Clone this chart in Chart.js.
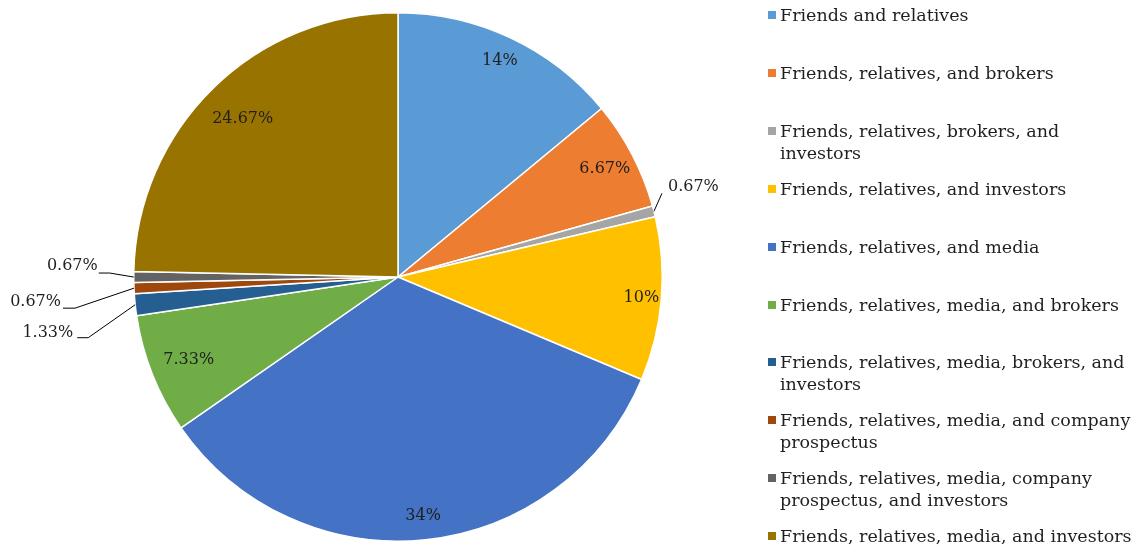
<!DOCTYPE html>
<html>
<head>
<meta charset="utf-8">
<script src="https://cdn.jsdelivr.net/npm/chart.js@4/dist/chart.umd.min.js"></script>
<style>
  html, body { margin: 0; padding: 0; background: #fff; }
  #wrap { position: relative; width: 1138px; height: 550px; }
  #c { position: absolute; left: 0; top: 0; }
  #legend { position: absolute; left: 0; top: 0; width: 1138px; height: 550px; pointer-events: none; }
  .li { position: absolute; left: 780px; font-family: "DejaVu Serif", serif; font-size: 17.5px; line-height: 22px; color: #1f1f1f; white-space: nowrap; }
  .sw { position: absolute; left: -12px; top: 7px; width: 8px; height: 8px; }
</style>
</head>
<body>
<div id="wrap">
  <canvas id="c" width="1138" height="550"></canvas>
  <div id="legend"></div>
</div>
<script>
// ---- data ----
const categories = [
  "Friends and relatives",
  "Friends, relatives, and brokers",
  "Friends, relatives, brokers, and investors",
  "Friends, relatives, and investors",
  "Friends, relatives, and media",
  "Friends, relatives, media, and brokers",
  "Friends, relatives, media, brokers, and investors",
  "Friends, relatives, media, and company prospectus",
  "Friends, relatives, media, company prospectus, and investors",
  "Friends, relatives, media, and investors"
];
const values = [14, 6.67, 0.67, 10, 34, 7.33, 1.33, 0.67, 0.67, 24.67];
const valueLabels = ["14%", "6.67%", "0.67%", "10%", "34%", "7.33%", "1.33%", "0.67%", "0.67%", "24.67%"];
const colors = ["#5B9BD5", "#ED7D31", "#A5A5A5", "#FFC000", "#4472C4", "#70AD47", "#255E91", "#9E480E", "#636363", "#997300"];

// ---- styling (label placement, px) ----
const FONT = '"DejaVu Serif", serif';
// inside labels: distance from centre as fraction of radius
const insideFrac = { 0: 0.905, 1: 0.883, 3: 0.924, 4: 0.91, 5: 0.852, 9: 0.84 };
const outside = {
  2: { elbow: [8, -18], end: [8, -18], text: [14, -24], align: 'left' },
  6: { elbow: [-47, 33], end: [-58, 33], text: [-62, 28], align: 'right' },
  7: { elbow: [-59, 20], end: [-71, 20], text: [-73, 13.5], align: 'right' },
  8: { elbow: [-24, -4], end: [-35, -4], text: [-36, -11], align: 'right' }
};

const labelPlugin = {
  id: 'pieLabels',
  afterDatasetsDraw(chart) {
    const ctx = chart.ctx;
    const meta = chart.getDatasetMeta(0);
    ctx.save();
    ctx.font = '16px ' + FONT;
    ctx.fillStyle = '#1f1f1f';
    ctx.textBaseline = 'middle';
    meta.data.forEach((arc, i) => {
      const p = arc.getProps(['x', 'y', 'startAngle', 'endAngle', 'outerRadius'], true);
      const mid = (p.startAngle + p.endAngle) / 2;
      const cos = Math.cos(mid), sin = Math.sin(mid);
      const o = outside[i];
      if (!o) {
        const r = p.outerRadius * (insideFrac[i] || 0.88);
        ctx.textAlign = 'center';
        ctx.fillText(valueLabels[i], p.x + cos * r, p.y + sin * r);
      } else {
        const ex = p.x + cos * p.outerRadius, ey = p.y + sin * p.outerRadius;
        ctx.strokeStyle = '#000';
        ctx.lineWidth = 1;
        ctx.beginPath();
        ctx.moveTo(ex, ey);
        ctx.lineTo(ex + o.elbow[0], ey + o.elbow[1]);
        ctx.lineTo(ex + o.end[0], ey + o.end[1]);
        ctx.stroke();
        ctx.textAlign = o.align;
        ctx.fillText(valueLabels[i], ex + o.text[0], ey + o.text[1]);
      }
    });
    ctx.restore();
  }
};

new Chart(document.getElementById('c'), {
  type: 'pie',
  data: {
    labels: categories,
    datasets: [{
      data: values,
      backgroundColor: colors,
      borderColor: '#ffffff',
      borderWidth: 1.5
    }]
  },
  options: {
    responsive: false,
    animation: false,
    layout: { padding: { left: 133, right: 475, top: 12, bottom: 8 } },
    plugins: { legend: { display: false }, tooltip: { enabled: false } }
  },
  plugins: [labelPlugin]
});

// ---- HTML legend ----
const legendEl = document.getElementById('legend');
const legendMaxWidth = 356;
const legendTop = 4;
const legendStep = 57.9;
const mctx = document.createElement('canvas').getContext('2d');
mctx.font = '17.5px ' + FONT;
function wrap(text) {
  const words = text.split(' ');
  const lines = [];
  let cur = '';
  words.forEach(w => {
    const t = cur ? cur + ' ' + w : w;
    if (mctx.measureText(t).width > legendMaxWidth && cur) { lines.push(cur); cur = w; }
    else cur = t;
  });
  if (cur) lines.push(cur);
  return lines;
}
categories.forEach((cat, i) => {
  const d = document.createElement('div');
  d.className = 'li';
  d.style.top = (legendTop + i * legendStep) + 'px';
  const sw = document.createElement('span');
  sw.className = 'sw';
  sw.style.background = colors[i];
  d.appendChild(sw);
  wrap(cat).forEach((ln, k) => {
    if (k) d.appendChild(document.createElement('br'));
    d.appendChild(document.createTextNode(ln));
  });
  legendEl.appendChild(d);
});
</script>
</body>
</html>
